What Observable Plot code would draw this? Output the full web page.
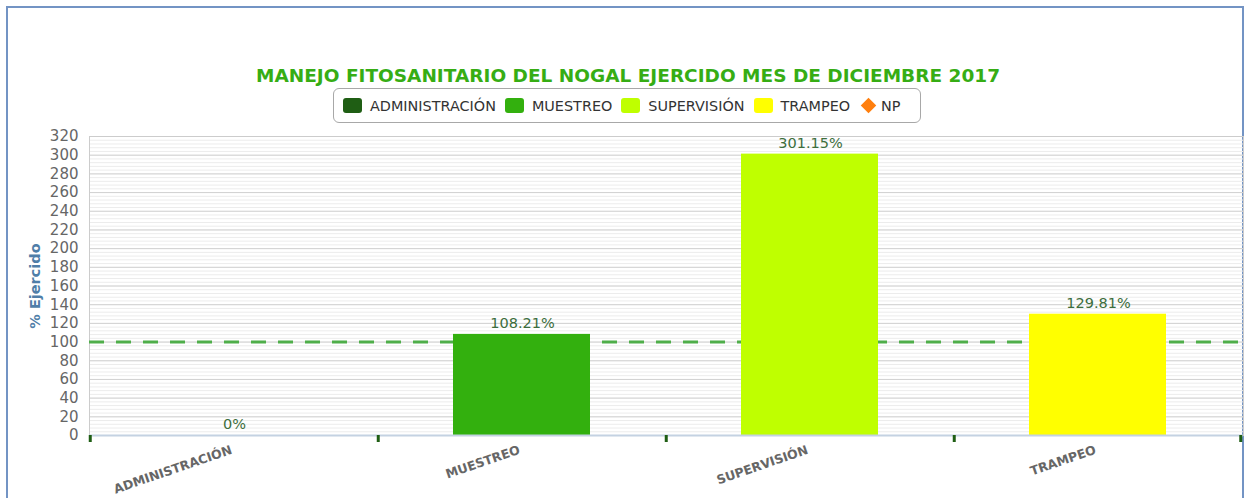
<!DOCTYPE html>
<html>
<head>
<meta charset="utf-8">
<script src="https://cdn.jsdelivr.net/npm/d3@7"></script>
<script src="https://cdn.jsdelivr.net/npm/@observablehq/plot@0.6"></script>
<style>
  html, body { margin: 0; padding: 0; background: #fff; width: 1249px; height: 498px; overflow: hidden; font-family: "DejaVu Sans", Verdana, sans-serif; }
  #frame { position: absolute; left: 6px; top: 6px; width: 1238px; height: 520px; border: 2px solid #7394c4; box-sizing: border-box; }
  #title { position: absolute; left: 0; width: 1256px; top: 65px; text-align: center; font-size: 18.5px; font-weight: bold; color: #36ad14; line-height: 22px; }
  #legend { position: absolute; left: 333px; top: 88px; width: 588px; height: 35px; box-sizing: border-box; border: 1px solid #a8a8a8; border-radius: 6px; display: flex; align-items: center; padding-left: 9px; font-size: 14.4px; color: #333; white-space: nowrap; }
  .item { display: flex; align-items: center; margin-right: 9px; }
  .sw { width: 19px; height: 15px; border-radius: 3px; margin-right: 8px; }
  .dia { width: 11px; height: 11px; transform: rotate(45deg); margin: 0 7px 0 4px; }
  #chart { position: absolute; left: 0; top: 126px; }
  g[aria-label="xlabels"] text { letter-spacing: 1px; }
</style>
</head>
<body>
<div id="frame"></div>
<div id="title"></div>
<div id="legend"></div>
<div id="chart"></div>
<script>
const title = "MANEJO FITOSANITARIO DEL NOGAL EJERCIDO MES DE DICIEMBRE 2017";
const categories = ["ADMINISTRACIÓN", "MUESTREO", "SUPERVISIÓN", "TRAMPEO"];
const values = [0, 108.21, 301.15, 129.81];
const colors = ["#1f5e14", "#33b00e", "#bfff00", "#ffff00"];
const legendNames = ["ADMINISTRACIÓN", "MUESTREO", "SUPERVISIÓN", "TRAMPEO", "NP"];
const legendColors = ["#1f5e14", "#33b00e", "#bfff00", "#ffff00", "#ff7f0e"];
const referenceValue = 100;
const yLabel = "% Ejercido";

document.getElementById("title").textContent = title;
const legend = document.getElementById("legend");
legendNames.forEach((n, i) => {
  const it = document.createElement("div");
  it.className = "item";
  const sw = document.createElement("div");
  sw.className = i === legendNames.length - 1 ? "dia" : "sw";
  sw.style.background = legendColors[i];
  const t = document.createElement("span");
  t.textContent = n;
  it.appendChild(sw); it.appendChild(t);
  legend.appendChild(it);
});

const rows = categories.map((c, i) => ({cat: c, value: values[i], color: colors[i]}));
const bw = (1249 - 89 - 6) / categories.length;

const chart = Plot.plot({
  width: 1249,
  height: 372,
  marginLeft: 89,
  marginRight: 6,
  marginTop: 10,
  marginBottom: 63,
  style: {fontFamily: "DejaVu Sans, Verdana, sans-serif", background: "transparent", overflow: "visible"},
  x: {domain: categories, padding: 0, axis: null},
  y: {domain: [0, 320], axis: null},
  marks: [
    Plot.gridY(d3.range(0, 321, 4), {stroke: "#ececec", strokeOpacity: 1}),
    Plot.gridY(d3.range(0, 321, 20), {stroke: "#d2d2d2", strokeOpacity: 1}),
    Plot.frame({stroke: "#cccccc"}),
    Plot.axisY(d3.range(0, 321, 20), {tickSize: 0, tickPadding: 11, fontSize: 15, fill: "#666", label: null}),
    Plot.text([yLabel], {frameAnchor: "left", textAnchor: "middle", rotate: -90, dx: -54, fontSize: 14.5, fontWeight: "bold", fill: "#4f7ea8"}),
    Plot.ruleY([referenceValue], {stroke: "#4fae4a", strokeWidth: 3, strokeDasharray: "15,12", strokeDashoffset: 0}),
    Plot.barY(rows, {x: "cat", y: "value", fill: "color", insetLeft: 75, insetRight: 76}),
    Plot.ruleY([0], {stroke: "#c4d2e2", strokeWidth: 2}),
    Plot.ruleX(categories, {x: d => d, dx: -bw / 2, y1: 0, y2: -7.5, stroke: "#1f5e14", strokeWidth: 3}),
    Plot.ruleX(categories.slice(-1), {x: d => d, dx: bw / 2 - 2, y1: 0, y2: -7.5, stroke: "#1f5e14", strokeWidth: 3}),
    Plot.text(rows, {x: "cat", y: "value", text: d => `${d.value}%`, dy: -11, fontSize: 14.5, fill: "#3d6e3d"}),
    Plot.text(categories, {x: d => d, y: 0, dy: 14, dx: -3, rotate: -19, textAnchor: "end", lineAnchor: "middle", fontSize: 12.5, fontWeight: "bold", fill: "#666", ariaLabel: "xlabels"})
  ]
});
document.getElementById("chart").appendChild(chart);
</script>
</body>
</html>
